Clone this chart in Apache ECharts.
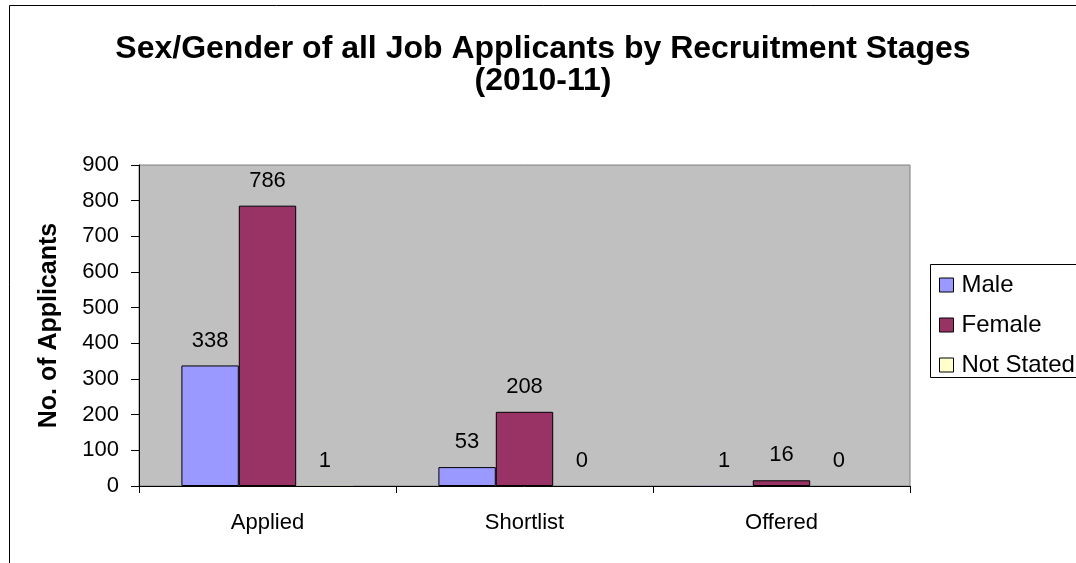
<!DOCTYPE html>
<html>
<head>
<meta charset="utf-8">
<script src="https://cdn.jsdelivr.net/npm/echarts@6/dist/echarts.min.js"></script>
<style>
  html, body { margin: 0; padding: 0; background: #fff; }
  #chart { width: 1076px; height: 563px; }
</style>
</head>
<body>
<div id="chart"></div>
<script>
// data
var stages = ['Applied', 'Shortlist', 'Offered'];
var male = [338, 53, 1];
var female = [786, 208, 16];
var notStated = [1, 0, 0];
var yTicks = [0, 100, 200, 300, 400, 500, 600, 700, 800, 900];

var font = 'Liberation Sans, Arial, sans-serif';

function bar(name, data, color) {
    return {
        name: name,
        type: 'bar',
        // bars of almost no height show no outline in the original
        data: data.map(function (v) {
            return v < 5 ? { value: v, itemStyle: { borderWidth: 0 } } : v;
        }),
        barGap: 0,
        barCategoryGap: '33%',
        itemStyle: { color: color, borderColor: '#000', borderWidth: 1 },
        label: {
            show: true,
            position: 'top',
            distance: 14,
            color: '#000',
            fontSize: 22,
            fontFamily: font
        }
    };
}

var chart = echarts.init(document.getElementById('chart'));
chart.setOption({
    animation: false,
    backgroundColor: '#fff',
    textStyle: { fontFamily: font },
    title: {
        text: 'Sex/Gender of all Job Applicants by Recruitment Stages\n(2010-11)',
        left: 538,
        textAlign: 'center',
        top: 28,
        textStyle: { fontSize: 32, fontWeight: 'bold', color: '#000', lineHeight: 32, fontFamily: font }
    },
    graphic: [
        { type: 'rect', shape: { x: 9.5, y: 5.5, width: 1200, height: 700 }, style: { fill: null, stroke: '#000', lineWidth: 1 }, silent: true },
        { type: 'rect', shape: { x: 930.5, y: 264.5, width: 200, height: 113 }, style: { fill: '#fff', stroke: '#000', lineWidth: 1 }, silent: true, z: 0 }
    ],
    legend: {
        orient: 'vertical',
        left: 934,
        top: 268,
        itemWidth: 14,
        itemHeight: 14,
        itemGap: 16,
        icon: 'rect',
        z: 10,
        textStyle: { fontSize: 24, color: '#000', fontFamily: font, padding: [0, 0, 0, 3] },
        itemStyle: { borderColor: '#000', borderWidth: 1 }
    },
    grid: {
        left: 139,
        top: 165,
        width: 771,
        height: 321,
        show: true,
        backgroundColor: '#C0C0C0',
        borderColor: '#808080',
        borderWidth: 1
    },
    xAxis: {
        type: 'category',
        data: stages,
        axisLine: { lineStyle: { color: '#000' } },
        axisTick: { show: true, length: 7, lineStyle: { color: '#000' } },
        axisLabel: { fontSize: 22, color: '#000', margin: 26, fontFamily: font }
    },
    yAxis: {
        type: 'value',
        min: yTicks[0],
        max: yTicks[yTicks.length - 1],
        interval: 100,
        name: 'No. of Applicants',
        nameLocation: 'middle',
        nameGap: 77,
        nameTextStyle: { fontSize: 25, fontWeight: 'bold', color: '#000', fontFamily: font },
        axisLine: { show: true, lineStyle: { color: '#000' } },
        axisTick: { show: true, length: 8, lineStyle: { color: '#000' } },
        splitLine: { show: false },
        axisLabel: { fontSize: 22, color: '#000', margin: 20, fontFamily: font }
    },
    series: [
        bar('Male', male, '#9999FF'),
        bar('Female', female, '#993366'),
        bar('Not Stated', notStated, '#FFFFCC')
    ]
});
</script>
</body>
</html>
